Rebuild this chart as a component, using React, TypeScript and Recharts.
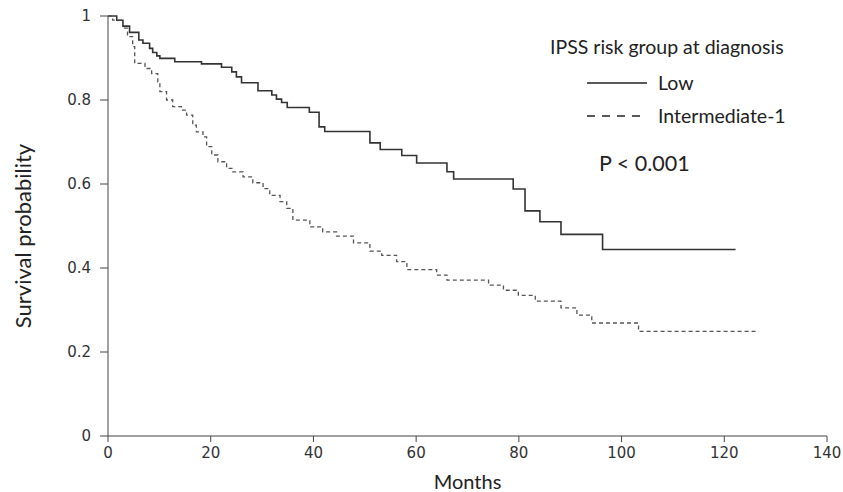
import React from "react";
import { LineChart, Line, XAxis, YAxis } from "recharts";

// Kaplan-Meier steps: month of each drop and survival after it
const lowMonths = [
  0, 1.7, 2.9, 4.2, 6.0, 6.8, 8.1, 8.7, 9.5, 10.1, 13.0, 18.2, 22.1, 24.1, 25.0,
  26.0, 29.2, 31.9, 32.8, 33.8, 34.9, 39.2, 41.1, 42.2, 51.0, 53.0, 57.2, 60.1,
  66.0, 67.3, 78.9, 81.2, 84.1, 88.2, 96.3, 122.2,
];
const lowSurvival = [
  1, 0.99, 0.976, 0.961, 0.943, 0.935, 0.923, 0.913, 0.905, 0.899, 0.891, 0.886,
  0.878, 0.867, 0.855, 0.841, 0.822, 0.812, 0.802, 0.794, 0.782, 0.771, 0.736,
  0.725, 0.698, 0.682, 0.668, 0.65, 0.629, 0.612, 0.588, 0.536, 0.51, 0.48,
  0.444, 0.444,
];

const int1Months = [
  0, 0.9, 2.9, 3.8, 4.8, 5.2, 7.2, 8.5, 9.7, 10.1, 11.4, 12.6, 14.3, 15.3, 16.5,
  17.2, 18.5, 19.2, 20.2, 21.4, 23.1, 24.3, 26.3, 28.2, 30.2, 31.5, 33.5, 34.8,
  36.0, 39.3, 41.8, 44.5, 47.8, 51.0, 53.3, 56.2, 58.2, 64.0, 66.0, 74.1, 77.0,
  79.9, 83.2, 88.2, 91.3, 94.2, 103.3, 126.4,
];
const int1Survival = [
  1, 0.99, 0.971, 0.951, 0.927, 0.887, 0.875, 0.863, 0.843, 0.82, 0.8, 0.784,
  0.776, 0.764, 0.74, 0.724, 0.712, 0.689, 0.669, 0.653, 0.637, 0.629, 0.617,
  0.603, 0.589, 0.573, 0.558, 0.542, 0.514, 0.498, 0.486, 0.476, 0.46, 0.44,
  0.43, 0.415, 0.396, 0.383, 0.371, 0.359, 0.347, 0.335, 0.321, 0.305, 0.288,
  0.269, 0.249, 0.249,
];

const xTicks = [0, 20, 40, 60, 80, 100, 120, 140];
const yTicks = [0, 0.2, 0.4, 0.6, 0.8, 1];

const lowData = lowMonths.map((m, i) => ({ month: m, low: lowSurvival[i] }));
const int1Data = int1Months.map((m, i) => ({ month: m, int1: int1Survival[i] }));

const labelFont = "Lato, 'Open Sans', sans-serif";
const tickFont = "'DejaVu Sans', Verdana, sans-serif";

function KMLegend() {
  const txt: React.CSSProperties = {
    position: "absolute",
    fontSize: 19.5,
    lineHeight: "24px",
    whiteSpace: "nowrap",
  };
  return (
    <div
      style={{
        position: "absolute",
        left: 0,
        top: 0,
        width: 843,
        height: 492,
        fontFamily: labelFont,
        color: "#222",
        pointerEvents: "none",
      }}
    >
      <div style={{ ...txt, left: 550, top: 35 }}>IPSS risk group at diagnosis</div>
      <svg style={{ position: "absolute", left: 587, top: 81 }} width={60} height={4}>
        <line x1={0} y1={2} x2={60} y2={2} stroke="#222" strokeWidth={1.6} />
      </svg>
      <div style={{ ...txt, left: 658, top: 71 }}>Low</div>
      <svg style={{ position: "absolute", left: 587, top: 114 }} width={60} height={4}>
        <line x1={0} y1={2} x2={57} y2={2} stroke="#222" strokeWidth={1.6} strokeDasharray="8 7" />
      </svg>
      <div style={{ ...txt, left: 658, top: 104 }}>Intermediate-1</div>
      <div style={{ ...txt, left: 599, top: 150, fontSize: 21.5, lineHeight: "26px" }}>
        P &lt; 0.001
      </div>
    </div>
  );
}

const yLabel = () => (
  <text
    x={22}
    y={236}
    transform="rotate(-90 22 236)"
    textAnchor="middle"
    dominantBaseline="central"
    fill="#222"
    fontSize={22}
    fontFamily={labelFont}
  >
    Survival probability
  </text>
);

export default function App() {
  return (
    <div style={{ position: "absolute", left: 0, top: 0, width: 843, height: 492, background: "#fff" }}>
      <LineChart
        width={843}
        height={492}
        margin={{ top: 16, right: 16, bottom: 0, left: 0 }}
      >
        <XAxis
          type="number"
          dataKey="month"
          domain={[0, 140]}
          ticks={xTicks}
          allowDataOverflow
          height={56}
          stroke="#444"
          tickSize={6}
          tickMargin={5}
          tick={{ fill: "#333", fontSize: 15, fontFamily: tickFont }}
          label={{
            value: "Months",
            position: "insideBottom",
            offset: 3,
            style: { fill: "#222", fontSize: 20, fontFamily: labelFont },
          }}
        />
        <YAxis
          type="number"
          domain={[0, 1]}
          ticks={yTicks}
          width={108}
          stroke="#444"
          tickSize={8}
          tickMargin={9}
          tick={{ fill: "#333", fontSize: 15, fontFamily: tickFont }}
          label={{ content: yLabel }}
        />
        <Line
          data={lowData}
          dataKey="low"
          type="stepAfter"
          stroke="#333"
          strokeWidth={1.6}
          dot={false}
          isAnimationActive={false}
        />
        <Line
          data={int1Data}
          dataKey="int1"
          type="stepAfter"
          stroke="#555"
          strokeWidth={1.3}
          strokeDasharray="4 3"
          dot={false}
          isAnimationActive={false}
        />
      </LineChart>
      <KMLegend />
    </div>
  );
}
